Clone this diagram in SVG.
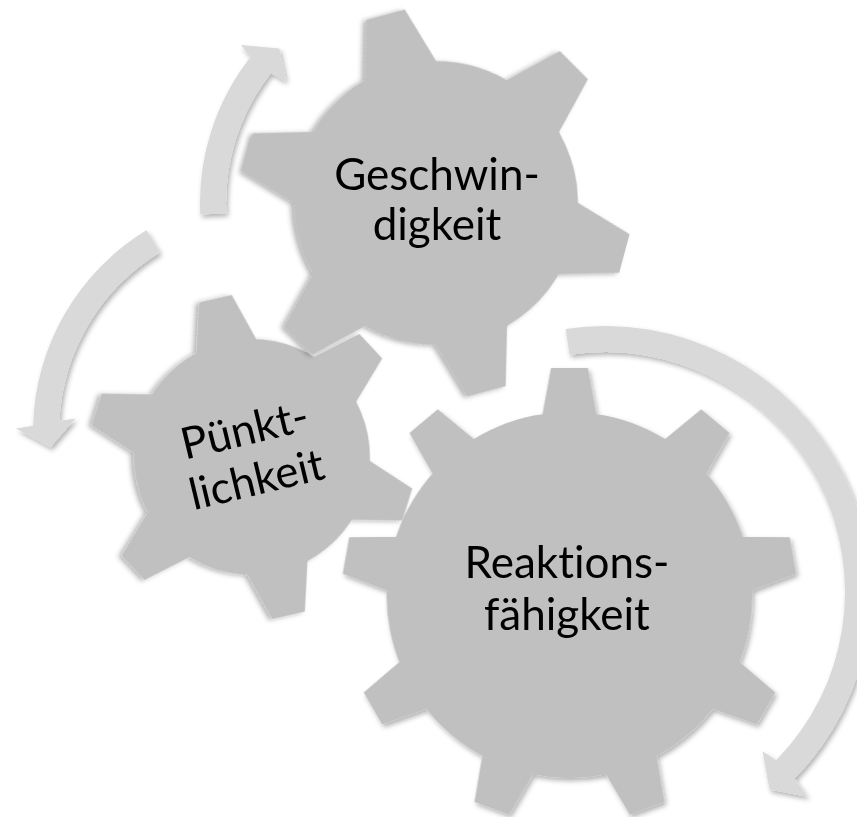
<svg xmlns="http://www.w3.org/2000/svg" xmlns:xlink="http://www.w3.org/1999/xlink" width="857" height="817" viewBox="0 0 857 817">
  <style>
    .gear { fill: #c0c0c0; }
    .arrow { fill: #d9d9d9; }
    .label { font-family: Lato, "Open Sans", sans-serif; font-size: 44px; fill: #000000; text-anchor: middle; font-variant-ligatures: none; font-feature-settings: "liga" 0, "clig" 0; }
  </style>
  <defs>
    <filter id="shadow" x="-10%" y="-10%" width="125%" height="125%">
      <feDropShadow dx="2" dy="3" stdDeviation="2.5" flood-color="#000000" flood-opacity="0.3"/>
    </filter>
    <polygon id="tooth1" points="-41.9,-120 -20,-195 20,-195 41.9,-120"/>
    <polygon id="tooth2" points="-34.7,-100 -16.7,-162.5 16.7,-162.5 34.7,-100"/>
    <polygon id="tooth3" points="-30.9,-160 -18.5,-227 18.5,-227 30.9,-160"/>
  </defs>

  <g id="connectors" class="arrow" filter="url(#shadow)">
    <path id="arrow-geschwindigkeit" d="M200.28,214.53 A236,236 0 0 1 250.54,57.06 L240.94,45.04 L279.35,48.53 L286.01,81.54 L270.97,73.13 A210,210 0 0 0 226.25,213.26 Z"/>
    <path id="arrow-puenktlichkeit" d="M146.39,230.35 A236,236 0 0 0 33.08,425.82 L16.02,428.47 L50.53,447.28 L75.47,418.47 L59.29,421.01 A210,210 0 0 1 159.90,252.56 Z"/>
    <path id="arrow-reaktion" d="M565.68,328.92 A266,266 0 0 1 794.72,778.44 L807.57,796.72 L769.51,789.45 L762.55,751.22 L776.18,760.22 A240,240 0 0 0 569.53,354.64 Z"/>
  </g>

  <g id="gear-reaktionsfaehigkeit">
    <g class="gear" filter="url(#shadow)" transform="translate(569.5,595)">
      <circle r="183"/>
      <use xlink:href="#tooth3"/>
      <use xlink:href="#tooth3" transform="rotate(40)"/>
      <use xlink:href="#tooth3" transform="rotate(80)"/>
      <use xlink:href="#tooth3" transform="rotate(120)"/>
      <use xlink:href="#tooth3" transform="rotate(160)"/>
      <use xlink:href="#tooth3" transform="rotate(200)"/>
      <use xlink:href="#tooth3" transform="rotate(240)"/>
      <use xlink:href="#tooth3" transform="rotate(280)"/>
      <use xlink:href="#tooth3" transform="rotate(320)"/>
    </g>
    <text class="label" x="567" y="578">Reaktions-</text>
    <text class="label" x="567" y="630">fähigkeit</text>
  </g>

  <g id="gear-puenktlichkeit">
    <g class="gear" filter="url(#shadow)" transform="translate(252,457) rotate(107)">
      <circle r="118"/>
      <use xlink:href="#tooth2"/>
      <use xlink:href="#tooth2" transform="rotate(60)"/>
      <use xlink:href="#tooth2" transform="rotate(120)"/>
      <use xlink:href="#tooth2" transform="rotate(180)"/>
      <use xlink:href="#tooth2" transform="rotate(240)"/>
      <use xlink:href="#tooth2" transform="rotate(300)"/>
    </g>
    <g transform="translate(254,469) rotate(-13.5)">
      <text class="label" x="0" y="-25">Pünkt-</text>
      <text class="label" x="0" y="26">lichkeit</text>
    </g>
  </g>

  <g id="gear-geschwindigkeit">
    <g class="gear" filter="url(#shadow)" transform="translate(436,203) rotate(105)">
      <circle r="142"/>
      <use xlink:href="#tooth1"/>
      <use xlink:href="#tooth1" transform="rotate(60)"/>
      <use xlink:href="#tooth1" transform="rotate(120)"/>
      <use xlink:href="#tooth1" transform="rotate(180)"/>
      <use xlink:href="#tooth1" transform="rotate(240)"/>
      <use xlink:href="#tooth1" transform="rotate(300)"/>
    </g>
    <text class="label" x="437" y="190">Geschwin-</text>
    <text class="label" x="437" y="240">digkeit</text>
  </g>
</svg>
